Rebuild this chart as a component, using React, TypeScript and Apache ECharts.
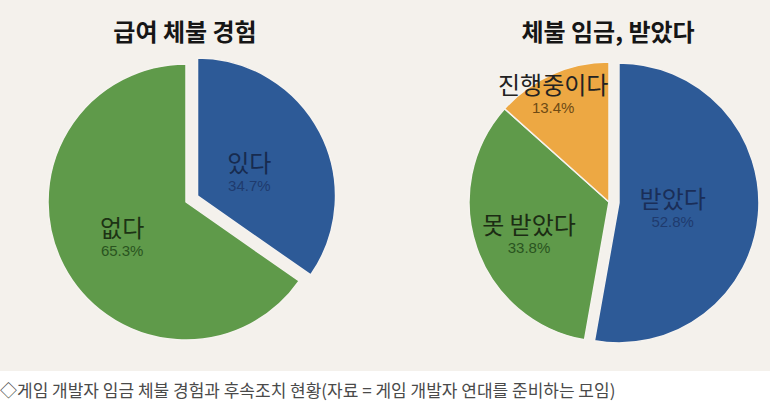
import React, { useEffect, useRef } from "react";
import * as echarts from "echarts";

const leftTitle = "급여 체불 경험";
const rightTitle = "체불 임금, 받았다";
const caption = "◇게임 개발자 임금 체불 경험과 후속조치 현황(자료 = 게임 개발자 연대를 준비하는 모임)";

const leftCategories = ["있다", "없다"];
const leftValues = [34.7, 65.3];

const rightCategories = ["받았다", "못 받았다", "진행중이다"];
const rightValues = [52.8, 33.8, 13.4];

const BLUE = "#2d5a97";
const GREEN = "#5f9a4a";
const ORANGE = "#eda843";

const leftColors = [BLUE, GREEN];
const leftNameColors = ["#172b4f", "#1c3314"];
const leftPctColors = ["#1f3b6e", "#2a5420"];
const leftSelected = [true, false];
const leftShift = [[-12, 7], [0, 0]];

const rightColors = [BLUE, GREEN, ORANGE];
const rightNameColors = ["#1a2e58", "#1c2c14", "#222222"];
const rightPctColors = ["#1f3b6e", "#2a5420", "#6e4a14"];
const rightSelected = [true, false, false];
const rightShift = [[-19, -3], [-11, 6], [-26, -43]];

const KR = '"Noto Sans CJK KR", "Noto Sans", sans-serif';
const NUM = '"Liberation Sans", Arial, sans-serif';

function buildData(
  cats: string[],
  vals: number[],
  colors: string[],
  nameColors: string[],
  pctColors: string[],
  selected: boolean[]
) {
  return cats.map((c, i) => ({
    name: c,
    value: vals[i],
    selected: selected[i],
    itemStyle: { color: colors[i] },
    select: { itemStyle: { color: colors[i] } },
    label: {
      rich: {
        n: { fontFamily: KR, fontSize: 24, color: nameColors[i], lineHeight: 31 },
        p: { fontFamily: NUM, fontSize: 15, color: pctColors[i], lineHeight: 17 },
      },
    },
  }));
}

function makeSeries(
  center: number[],
  radius: number,
  offset: number,
  data: any[],
  shift: number[][]
) {
  return {
    type: "pie",
    center,
    radius,
    startAngle: 90,
    clockwise: true,
    selectedMode: "multiple",
    selectedOffset: offset,
    silent: true,
    data,
    itemStyle: { borderColor: "#f6f3ef", borderWidth: 1.5 },
    label: {
      show: true,
      position: "inside",
      formatter: (p: any) => `{n|${p.name}}\n{p|${p.value}%}`,
    },
    labelLine: { show: false },
    labelLayout: (p: any) => ({ dx: shift[p.dataIndex][0], dy: shift[p.dataIndex][1] }),
    emphasis: { disabled: true },
  };
}

export default function App() {
  const ref = useRef<HTMLDivElement>(null);
  useEffect(() => {
    if (!ref.current) return;
    const chart = echarts.init(ref.current, undefined, { renderer: "svg" });
    chart.setOption({
      animation: false,
      backgroundColor: "#ffffff",
      graphic: [
        {
          type: "rect",
          z: -10,
          shape: { x: 0, y: 0, width: 770, height: 371 },
          style: { fill: "#f4f1ec" },
        },
        {
          type: "text",
          x: 185,
          y: 30,
          style: {
            text: leftTitle,
            font: `bold 24px ${KR}`,
            fill: "#161616",
            textAlign: "center",
            textVerticalAlign: "middle",
            align: "center",
            verticalAlign: "middle",
          },
        },
        {
          type: "text",
          x: 608,
          y: 30,
          style: {
            text: rightTitle,
            font: `bold 24px ${KR}`,
            fill: "#161616",
            textAlign: "center",
            textVerticalAlign: "middle",
            align: "center",
            verticalAlign: "middle",
          },
        },
        {
          type: "text",
          x: 0,
          y: 389,
          style: {
            text: caption,
            font: `17px ${KR}`,
            fill: "#4a4a4a",
            textAlign: "left",
            textVerticalAlign: "middle",
            align: "left",
            verticalAlign: "middle",
          },
        },
      ],
      series: [
        makeSeries(
          [186, 202],
          138,
          13,
          buildData(leftCategories, leftValues, leftColors, leftNameColors, leftPctColors, leftSelected),
          leftShift
        ),
        makeSeries(
          [609, 202],
          140,
          10,
          buildData(rightCategories, rightValues, rightColors, rightNameColors, rightPctColors, rightSelected),
          rightShift
        ),
      ],
    });
    return () => chart.dispose();
  }, []);
  return (
    <div
      ref={ref}
      style={{ position: "absolute", left: 0, top: 0, width: 782, height: 413 }}
    />
  );
}
